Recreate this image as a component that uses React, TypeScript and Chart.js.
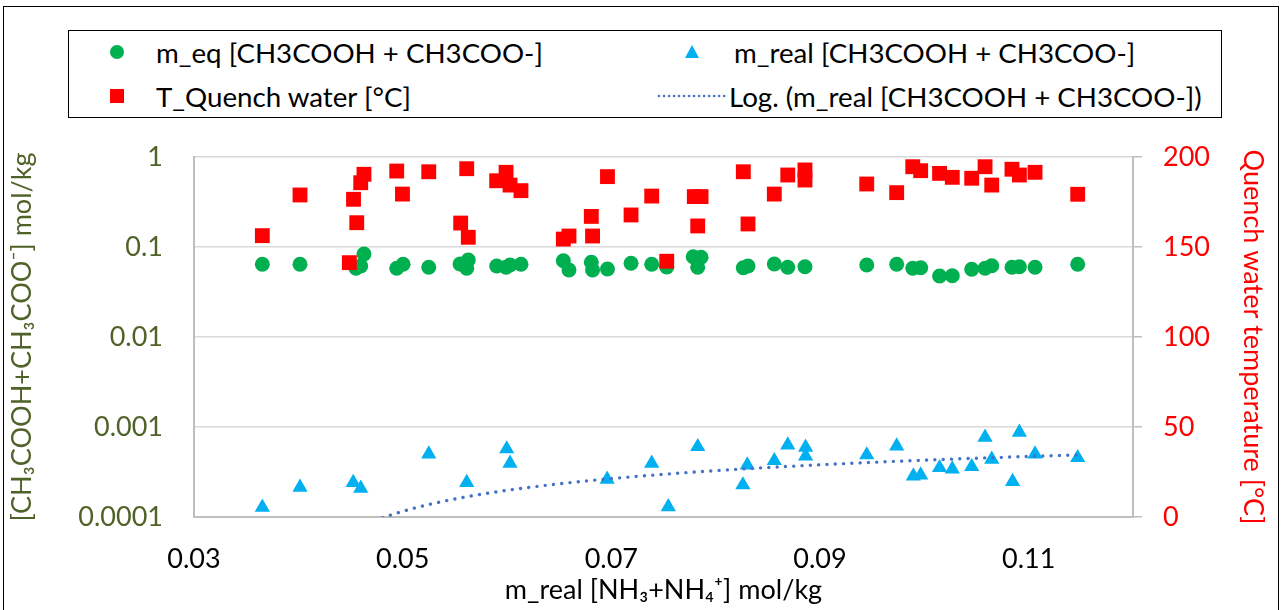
import React, { useEffect, useRef } from 'react';
import { Chart, registerables } from 'chart.js';

Chart.register(...registerables);

const FONT = "Lato, 'DejaVu Sans', sans-serif";
const FONT_SIZE = 27;
const LEGEND_FONT_SIZE = 27.7;

// m_eq [CH3COOH + CH3COO-] (mol/kg, left log axis)
const eqX = [0.03655, 0.04016, 0.04553, 0.04598, 0.04629, 0.04943, 0.05004, 0.0525, 0.0555, 0.05614, 0.05629, 0.05901, 0.05991, 0.06029, 0.06134, 0.0654, 0.06594, 0.06808, 0.0682, 0.06963, 0.07189, 0.07387, 0.07531, 0.07785, 0.07828, 0.0786, 0.08265, 0.0831, 0.08562, 0.08691, 0.08856, 0.09448, 0.09735, 0.09889, 0.09965, 0.10146, 0.10268, 0.10454, 0.10582, 0.10646, 0.1084, 0.10911, 0.11061, 0.1147];
const eqY = [0.0643, 0.0643, 0.058, 0.0615, 0.0836, 0.058, 0.0643, 0.0595, 0.0648, 0.058, 0.0717, 0.0615, 0.0595, 0.0631, 0.0643, 0.0704, 0.0555, 0.0676, 0.0555, 0.057, 0.0659, 0.0643, 0.06, 0.078, 0.0595, 0.0768, 0.0589, 0.0615, 0.0648, 0.0595, 0.0604, 0.0631, 0.0643, 0.058, 0.0589, 0.0476, 0.048, 0.0565, 0.058, 0.062, 0.0595, 0.0604, 0.0595, 0.0643];

// T_Quench water [°C] (right axis)
const tX = [0.03655, 0.04016, 0.04489, 0.04529, 0.0456, 0.04598, 0.04629, 0.04943, 0.04998, 0.0525, 0.05556, 0.05614, 0.05629, 0.05901, 0.05991, 0.06029, 0.06134, 0.0654, 0.06594, 0.06808, 0.0682, 0.06963, 0.07189, 0.07387, 0.07531, 0.07795, 0.07828, 0.0786, 0.08265, 0.0831, 0.08562, 0.08691, 0.08856, 0.08856, 0.09448, 0.09735, 0.09889, 0.09965, 0.10146, 0.10268, 0.10454, 0.10582, 0.10646, 0.1084, 0.10911, 0.11061, 0.1147];
const tY = [156.3, 178.9, 141.3, 176.5, 163.5, 185.7, 190.4, 192.2, 179.4, 191.8, 163.3, 193.5, 155.4, 186.8, 191.5, 184.4, 181.3, 154.4, 156.1, 167.0, 156.1, 189.1, 167.8, 178.3, 142.1, 178.0, 161.7, 178.0, 191.8, 162.8, 179.4, 190.0, 192.8, 187.2, 185.0, 180.2, 194.6, 192.4, 190.9, 188.7, 188.2, 194.6, 184.4, 193.2, 190.0, 191.5, 179.3];

// m_real [CH3COOH + CH3COO-] (mol/kg, left log axis)
const realX = [0.03655, 0.04016, 0.04526, 0.04598, 0.0525, 0.05614, 0.05997, 0.06029, 0.0696, 0.07387, 0.07546, 0.07828, 0.08261, 0.08303, 0.08562, 0.08691, 0.08862, 0.08862, 0.09448, 0.09735, 0.09895, 0.09965, 0.10146, 0.10268, 0.10454, 0.10582, 0.10646, 0.10846, 0.10911, 0.11061, 0.1147];
const realY = [0.000128, 0.000214, 0.000241, 0.000208, 0.000501, 0.000241, 0.00057, 0.000395, 0.000262, 0.000395, 0.00013, 0.000604, 0.000227, 0.000378, 0.000422, 0.000631, 0.000595, 0.000476, 0.000489, 0.000615, 0.000285, 0.000293, 0.000353, 0.000341, 0.000362, 0.000769, 0.000438, 0.000247, 0.000873, 0.000501, 0.000456];

// Logarithmic trend line y = A*ln(x) + B (coefficients)
const TREND_A = 0.000451;
const TREND_B = 0.0014666;

const X_TICKS = [0.03, 0.05, 0.07, 0.09, 0.11];
const LOG_TICKS = [0.0001, 0.001, 0.01, 0.1, 1];
const T_TICKS = [0, 50, 100, 150, 200];

const LABEL_EQ = 'm_eq [CH3COOH + CH3COO-]';
const LABEL_REAL = 'm_real [CH3COOH + CH3COO-]';
const LABEL_T = 'T_Quench water [°C]';
const LABEL_TREND = 'Log. (m_real [CH3COOH + CH3COO-])';

const X_TITLE = 'm_real [NH₃+NH₄⁺] mol/kg';
const Y_TITLE = '[CH₃COOH+CH₃COO⁻] mol/kg';
const Y2_TITLE = 'Quench water temperature [°C]';

const GREEN = '#00B050';
const RED = '#FF0000';
const CYAN = '#00B0F0';
const TREND = '#4472C4';
const OLIVE = '#4F6228';

function trendPoints() {
  const lo = Math.min(...realX);
  const hi = Math.max(...realX);
  const n = 300;
  const pts: { x: number; y: number | null }[] = [];
  for (let i = 0; i <= n; i++) {
    const x = lo + ((hi - lo) * i) / n;
    const y = TREND_A * Math.log(x) + TREND_B;
    pts.push({ x, y: y > 0 ? y : null });
  }
  return pts;
}

export default function App() {
  const ref = useRef<HTMLCanvasElement>(null);

  useEffect(() => {
    const font = { family: FONT, size: FONT_SIZE };
    const chart = new Chart(ref.current!, {
      type: 'scatter',
      data: {
        datasets: [
          {
            label: LABEL_TREND,
            data: trendPoints() as any,
            yAxisID: 'y',
            showLine: true,
            pointRadius: 0,
            borderColor: TREND,
            borderWidth: 3.4,
            borderDash: [0.01, 8.3],
            borderCapStyle: 'round',
            spanGaps: false,
            fill: false,
          } as any,
          {
            label: LABEL_T,
            data: tX.map((x, i) => ({ x, y: tY[i] })),
            yAxisID: 'y2',
            pointStyle: 'rect',
            pointRadius: 10.5,
            backgroundColor: RED,
            borderWidth: 0,
          },
          {
            label: LABEL_REAL,
            data: realX.map((x, i) => ({ x, y: realY[i] })),
            yAxisID: 'y',
            pointStyle: 'triangle',
            pointRadius: 8.8,
            backgroundColor: CYAN,
            borderWidth: 0,
          },
          {
            label: LABEL_EQ,
            data: eqX.map((x, i) => ({ x, y: eqY[i] })),
            yAxisID: 'y',
            pointStyle: 'circle',
            pointRadius: 7.5,
            backgroundColor: GREEN,
            borderWidth: 0,
          },
        ],
      },
      options: {
        animation: false,
        responsive: false,
        devicePixelRatio: 1,
        events: [],
        layout: { padding: { top: 157, left: 0, right: 0, bottom: 0 } },
        plugins: { legend: { display: false }, tooltip: { enabled: false } },
        scales: {
          x: {
            type: 'linear',
            position: 'bottom',
            min: 0.03,
            max: 0.12,
            afterBuildTicks: (s: any) => {
              s.ticks = X_TICKS.map((v) => ({ value: v }));
            },
            afterFit: (s: any) => {
              s.height = 93;
            },
            grid: { display: false, drawTicks: false },
            border: { display: true, color: '#BFBFBF', width: 2 },
            ticks: {
              padding: 26,
              color: '#000',
              font,
              maxRotation: 0,
              autoSkip: false,
              callback: (v: any) => Number(v).toFixed(2),
            },
            title: {
              display: true,
              text: X_TITLE,
              color: '#000',
              font,
              padding: { top: 0, bottom: 3.8 },
            },
          },
          y: {
            type: 'logarithmic',
            position: 'left',
            min: 0.0001,
            max: 1,
            afterBuildTicks: (s: any) => {
              s.ticks = LOG_TICKS.map((v) => ({ value: v }));
            },
            afterFit: (s: any) => {
              s.width = 194;
            },
            grid: { color: '#D9D9D9', lineWidth: 1.5, drawTicks: false },
            border: { display: true, color: '#BFBFBF', width: 2 },
            ticks: {
              padding: 31,
              color: OLIVE,
              font,
              autoSkip: false,
              callback: (v: any) => String(v),
            },
            title: {
              display: true,
              text: Y_TITLE,
              color: OLIVE,
              font,
              padding: { top: 6.5, bottom: 0 },
            },
          },
          y2: {
            type: 'linear',
            position: 'right',
            min: 0,
            max: 200,
            afterBuildTicks: (s: any) => {
              s.ticks = T_TICKS.map((v) => ({ value: v }));
            },
            afterFit: (s: any) => {
              s.width = 149;
            },
            grid: {
              drawOnChartArea: false,
              drawTicks: true,
              tickLength: 9,
              color: '#BFBFBF',
              lineWidth: 1.5,
            },
            border: { display: true, color: '#BFBFBF', width: 2 },
            ticks: {
              padding: 21,
              color: RED,
              font,
              autoSkip: false,
              callback: (v: any) => String(v),
            },
            title: {
              display: true,
              text: Y2_TITLE,
              color: RED,
              font,
              padding: { top: 12.8, bottom: 0 },
            },
          },
        },
      } as any,
    });
    return () => chart.destroy();
  }, []);

  const textStyle = (left: number, cy: number): React.CSSProperties => ({
    position: 'absolute',
    left,
    top: cy - 16,
    height: 32,
    lineHeight: '32px',
    whiteSpace: 'nowrap',
  });

  return (
    <div
      style={{
        position: 'absolute',
        left: 0,
        top: 0,
        width: 1282,
        height: 610,
        background: '#fff',
        overflow: 'hidden',
      }}
    >
      <div
        style={{
          position: 'absolute',
          left: 3,
          top: 6,
          width: 1276,
          height: 700,
          border: '1px solid #000',
          boxSizing: 'border-box',
        }}
      />
      <canvas
        ref={ref}
        width={1282}
        height={610}
        style={{ position: 'absolute', left: 0, top: 0, width: 1282, height: 610 }}
      />
      <div
        style={{
          position: 'absolute',
          left: 68,
          top: 30,
          width: 1154,
          height: 88,
          border: '1.5px solid #000',
          boxSizing: 'border-box',
          background: '#fff',
          fontFamily: FONT,
          fontSize: LEGEND_FONT_SIZE,
          color: '#000',
        }}
      >
        <svg style={{ position: 'absolute', left: 41, top: 14 }} width={14} height={14}>
          <circle cx={7} cy={7} r={7} fill={GREEN} />
        </svg>
        <div style={textStyle(87, 22)}>{LABEL_EQ}</div>

        <svg style={{ position: 'absolute', left: 616, top: 14 }} width={14} height={13}>
          <polygon points="7,0 14,13 0,13" fill={CYAN} />
        </svg>
        <div style={textStyle(665, 22)}>{LABEL_REAL}</div>

        <svg style={{ position: 'absolute', left: 588, top: 62 }} width={70} height={6}>
          <line
            x1={2}
            y1={3}
            x2={68}
            y2={3}
            stroke={TREND}
            strokeWidth={2.6}
            strokeLinecap="round"
            strokeDasharray="0.01 5"
          />
        </svg>
        <div style={textStyle(660, 66)}>{LABEL_TREND}</div>

        <svg style={{ position: 'absolute', left: 41, top: 58 }} width={14} height={14}>
          <rect x={0} y={0} width={14} height={14} fill={RED} />
        </svg>
        <div style={textStyle(87, 66)}>{LABEL_T}</div>
      </div>
    </div>
  );
}
